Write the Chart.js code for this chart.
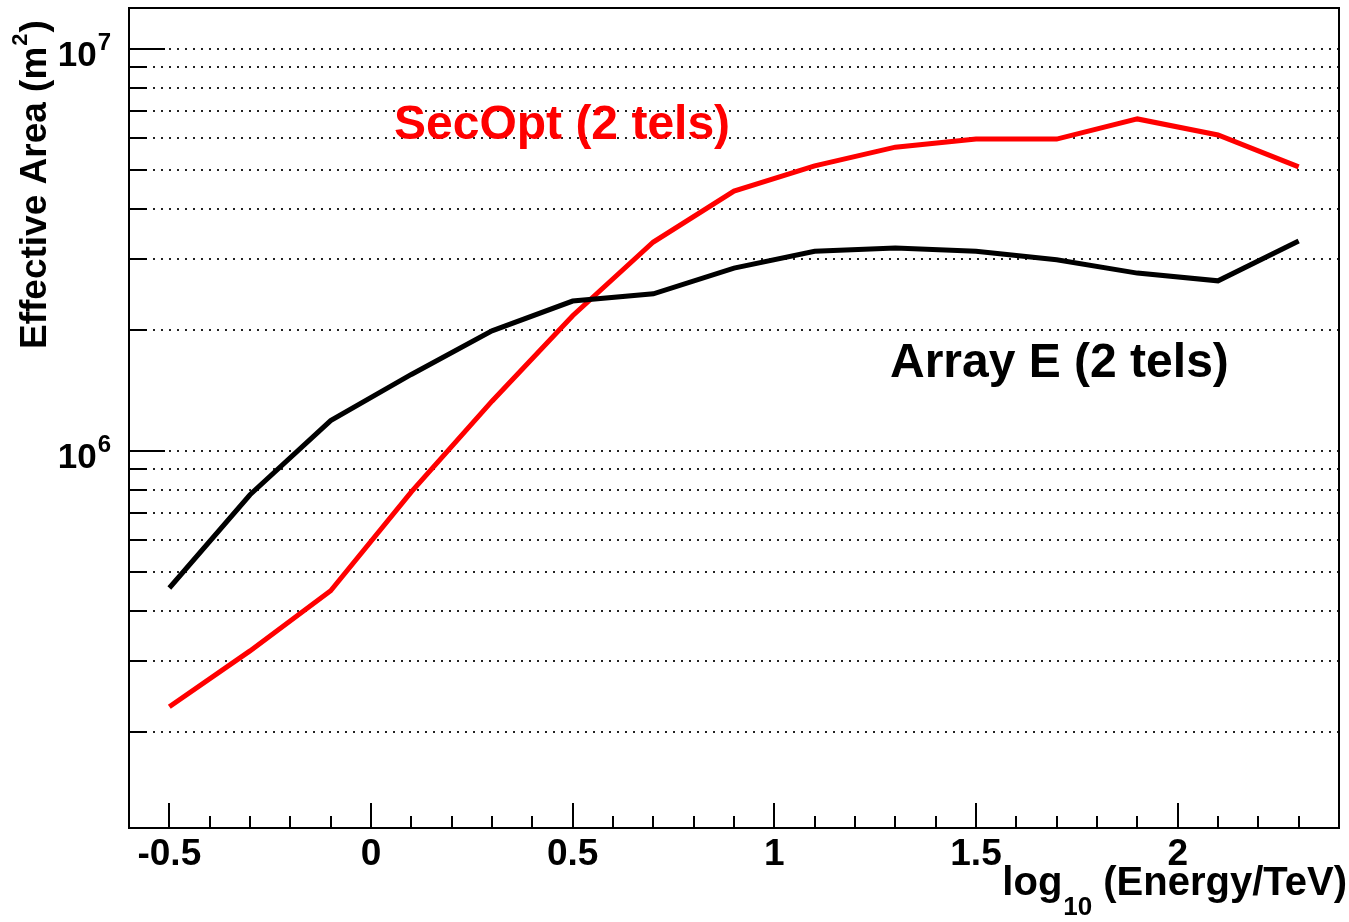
<!DOCTYPE html>
<html>
<head>
<meta charset="utf-8">
<title>Effective Area</title>
<script src="https://cdn.jsdelivr.net/npm/chart.js@4.4.1/dist/chart.umd.min.js"></script>
<style>
  html, body { margin: 0; padding: 0; background: #fff; }
  #wrap { width: 1349px; height: 922px; position: relative; }
</style>
</head>
<body>
<div id="wrap"><canvas id="effAreaChart"></canvas></div>
<script>
// Energy bins, log10(E/TeV)
const energyLog = [-0.5, -0.3, -0.1, 0.1, 0.3, 0.5, 0.7, 0.9, 1.1, 1.3, 1.5, 1.7, 1.9, 2.1, 2.3];

// Effective area (m^2)
const arrayE = [4.56e5, 7.78e5, 1.19e6, 1.55e6, 1.99e6, 2.36e6, 2.46e6, 2.85e6, 3.14e6, 3.20e6, 3.14e6, 2.99e6, 2.77e6, 2.65e6, 3.33e6];
const secOpt = [2.31e5, 3.18e5, 4.49e5, 7.91e5, 1.33e6, 2.17e6, 3.31e6, 4.43e6, 5.12e6, 5.70e6, 5.97e6, 5.97e6, 6.70e6, 6.11e6, 5.09e6];

// Axis ticks / labels
const xMajorTicks = [-0.5, 0, 0.5, 1, 1.5, 2];
const xTickLabels = ['-0.5', '0', '0.5', '1', '1.5', '2'];
const yDecades = [6, 7];

const FONT = '"Liberation Sans", Arial, Helvetica, sans-serif';

function toPoints(values) {
  return values.map((v, i) => ({ x: energyLog[i], y: v }));
}

// ROOT-like frame: dotted grid, inward ticks, labels with super/subscripts
const rootStyle = {
  id: 'rootStyle',
  beforeDatasetsDraw: function (chart) {
    const ctx = chart.ctx;
    const area = chart.chartArea;
    const y = chart.scales.y;
    ctx.save();
    ctx.strokeStyle = '#222';
    ctx.lineWidth = 2;
    ctx.setLineDash([2, 6]);
    for (let d = 5; d <= 7; d++) {
      for (let m = 1; m <= 9; m++) {
        const v = m * Math.pow(10, d);
        if (v < y.min || v > y.max) continue;
        const py = Math.round(y.getPixelForValue(v));
        ctx.beginPath();
        ctx.moveTo(area.left, py);
        ctx.lineTo(area.right, py);
        ctx.stroke();
      }
    }
    ctx.restore();
  },
  afterDraw: function (chart) {
    const ctx = chart.ctx;
    const area = chart.chartArea;
    const xs = chart.scales.x;
    const ys = chart.scales.y;
    ctx.save();
    ctx.setLineDash([]);
    ctx.strokeStyle = '#000';
    ctx.fillStyle = '#000';
    ctx.lineWidth = 2;

    // frame
    ctx.strokeRect(area.left, area.top, area.right - area.left, area.bottom - area.top);

    // y ticks (log)
    for (let d = 5; d <= 7; d++) {
      for (let m = 1; m <= 9; m++) {
        const v = m * Math.pow(10, d);
        if (v < ys.min || v > ys.max) continue;
        const py = Math.round(ys.getPixelForValue(v));
        const len = m === 1 ? 36 : 18;
        ctx.beginPath();
        ctx.moveTo(area.left, py);
        ctx.lineTo(area.left + len, py);
        ctx.stroke();
      }
    }

    // x ticks every 0.1, major every 0.5
    for (let i = -6; i <= 24; i++) {
      const v = i / 10;
      const px = Math.round(xs.getPixelForValue(v));
      const len = (i % 5 === 0) ? 25 : 12;
      ctx.beginPath();
      ctx.moveTo(px, area.bottom);
      ctx.lineTo(px, area.bottom - len);
      ctx.stroke();
    }

    // x tick labels
    ctx.font = 'bold 37px ' + FONT;
    ctx.textAlign = 'center';
    ctx.textBaseline = 'alphabetic';
    xMajorTicks.forEach((v, i) => {
      ctx.fillText(xTickLabels[i], xs.getPixelForValue(v), 865);
    });

    // y tick labels 10^n
    yDecades.forEach((d) => {
      const py = ys.getPixelForValue(Math.pow(10, d));
      ctx.textAlign = 'right';
      ctx.font = 'bold 24px ' + FONT;
      const supW = ctx.measureText(String(d)).width;
      ctx.fillText(String(d), 111, py + 1);
      ctx.font = 'bold 35px ' + FONT;
      ctx.fillText('10', 111 - supW - 1, py + 17);
    });

    // x axis title: log10 (Energy/TeV)
    ctx.textAlign = 'right';
    ctx.font = 'bold 40px ' + FONT;
    const mainTxt = '(Energy/TeV)';
    const wMain = ctx.measureText(mainTxt).width;
    ctx.fillText(mainTxt, 1347, 895);
    ctx.font = 'bold 26px ' + FONT;
    const subRight = 1347 - wMain - 11;
    const wSub = ctx.measureText('10').width;
    ctx.fillText('10', subRight, 915);
    ctx.font = 'bold 40px ' + FONT;
    ctx.fillText('log', subRight - wSub - 1, 895);

    // y axis title, rotated
    ctx.save();
    ctx.translate(46, 349);
    ctx.rotate(-Math.PI / 2);
    ctx.textAlign = 'left';
    ctx.font = 'bold 37px ' + FONT;
    const t1 = 'Effective Area (m';
    ctx.fillText(t1, 0, 0);
    let off = ctx.measureText(t1).width + 1;
    ctx.font = 'bold 22px ' + FONT;
    ctx.fillText('2', off, -19);
    off += ctx.measureText('2').width + 1;
    ctx.font = 'bold 37px ' + FONT;
    ctx.fillText(')', off, 0);
    ctx.restore();

    // series annotations
    ctx.textAlign = 'left';
    ctx.font = 'bold 48px ' + FONT;
    ctx.fillStyle = '#ff0000';
    ctx.fillText('SecOpt (2 tels)', 394, 139);
    ctx.fillStyle = '#000';
    ctx.fillText('Array E (2 tels)', 890, 377);

    ctx.restore();
  }
};

const ctx = document.getElementById('effAreaChart');

new Chart(ctx, {
  type: 'line',
  data: {
    datasets: [
      {
        label: 'Array E (2 tels)',
        data: toPoints(arrayE),
        borderColor: '#000000',
        borderWidth: 5,
        pointRadius: 0,
        tension: 0,
        fill: false
      },
      {
        label: 'SecOpt (2 tels)',
        data: toPoints(secOpt),
        borderColor: '#ff0000',
        borderWidth: 5,
        pointRadius: 0,
        tension: 0,
        fill: false
      }
    ]
  },
  options: {
    responsive: true,
    maintainAspectRatio: false,
    animation: false,
    layout: {
      padding: { left: 129, top: 8, right: 10, bottom: 94 }
    },
    scales: {
      x: {
        type: 'linear',
        min: -0.6,
        max: 2.4,
        display: false
      },
      y: {
        type: 'logarithmic',
        min: 1.153e5,
        max: 1.265e7,
        display: false
      }
    },
    plugins: {
      legend: { display: false },
      tooltip: { enabled: false }
    }
  },
  plugins: [rootStyle]
});
</script>
</body>
</html>
